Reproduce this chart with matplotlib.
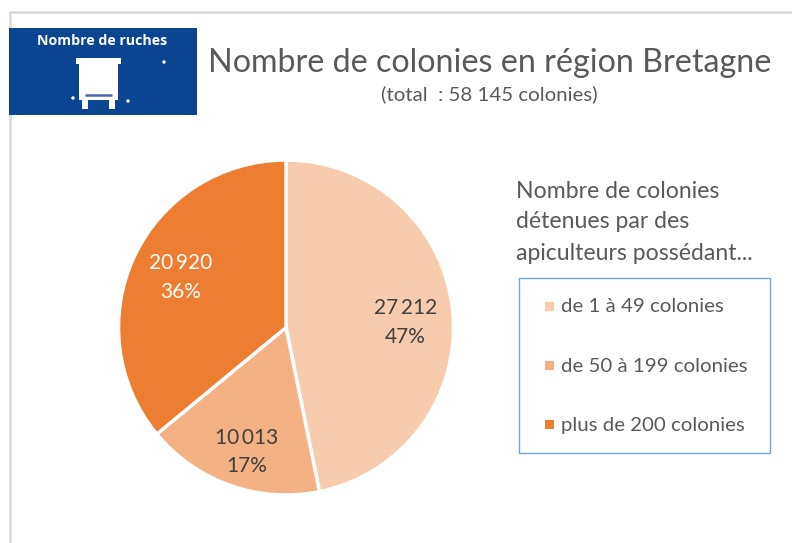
import matplotlib
matplotlib.use('Agg')
import matplotlib.pyplot as plt
import numpy as np
from matplotlib.patches import Rectangle, Circle

plt.rcParams['font.family'] = ['Lato', 'DejaVu Sans']

categories = ['de 1 à 49 colonies', 'de 50 à 199 colonies', 'plus de 200 colonies']
values = [27212, 10013, 20920]
value_labels = ['27\u2009212', '10\u2009013', '20\u2009920']
percent_labels = ['47%', '17%', '36%']
colors = ['#F8CBAD', '#F4B183', '#ED7D31']
label_colors = ['#404040', '#404040', '#FFFFFF']

W, H = 792, 543
fig = plt.figure(figsize=(W / 100, H / 100), dpi=100)

# background layer in pixel coordinates
bg = fig.add_axes([0, 0, 1, 1])
bg.set_xlim(0, W)
bg.set_ylim(H, 0)
bg.axis('off')

# slide border
bg.plot([9.5, 9.5, W], [H, 11.5, 11.5], color='#D9D9D9', lw=1.8, zorder=0)

# logo
bg.add_patch(Rectangle((9, 28), 188, 87, color='#0B4592', lw=0))
bg.text(102, 41, 'Nombre de ruches', color='white', fontsize=10.2, fontweight='bold',
        ha='center', va='center', family=['Open Sans', 'DejaVu Sans'])
bg.add_patch(Rectangle((76, 58), 45, 6, color='white', lw=0))
bg.add_patch(Rectangle((79, 64), 39, 36, color='white', lw=0))
bg.add_patch(Rectangle((82, 100), 6, 9, color='white', lw=0))
bg.add_patch(Rectangle((109, 100), 6, 9, color='white', lw=0))
bg.plot([85, 112], [95, 95], color='#4F64AE', lw=1.8, solid_capstyle='butt')
for cx, cy in [(164, 62), (73, 98), (128, 101)]:
    bg.add_patch(Circle((cx, cy), 1.7, color='white', lw=0))

# titles
bg.text(490, 62.5, 'Nombre de colonies en région Bretagne', color='#595959', fontsize=23.2,
        ha='center', va='center')
bg.text(489, 94, '(total  : 58 145 colonies)', color='#595959', fontsize=14.7,
        ha='center', va='center')

# legend title
for y, line in zip([191, 222, 253], ['Nombre de colonies', 'détenues par des', 'apiculteurs possédant...']):
    bg.text(516.5, y, line, color='#595959', fontsize=16.6, ha='left', va='center')

# legend box
bg.add_patch(Rectangle((518.5, 277.5), 251, 175, fill=False, ec='#6FA8DC', lw=1))
for y, cat, col in zip([306, 365, 424], categories, colors):
    bg.add_patch(Rectangle((544.5, y - 4), 9, 9, color=col, lw=0))
    bg.text(561, y + 1, cat, color='#595959', fontsize=14.7, ha='left', va='center')

# pie
px, py, r = 286, 327.5, 167.5
ax = fig.add_axes([(px - r) / W, 1 - (py + r) / H, 2 * r / W, 2 * r / H])
wedges, _ = ax.pie(values, colors=colors, startangle=90, counterclock=False, radius=1.0,
                   wedgeprops={'edgecolor': 'white', 'linewidth': 2.5})
ax.set_xlim(-1, 1)
ax.set_ylim(-1, 1)

# label distance from centre, plus a small nudge in pixels
dist = [0.71, 0.77, 0.70]
nudge = [(1, -7), (4, -3), (1, 0)]
for w, val, pct, col, d, (nx, ny) in zip(wedges, value_labels, percent_labels, label_colors, dist, nudge):
    ang = np.deg2rad((w.theta1 + w.theta2) / 2)
    ax.annotate(val + '\n' + pct, (d * np.cos(ang), d * np.sin(ang)), xytext=(nx * 0.72, ny * 0.72),
                textcoords='offset points', color=col, fontsize=15,
                ha='center', va='center', linespacing=1.55)

fig.savefig('out.png', dpi=100)
